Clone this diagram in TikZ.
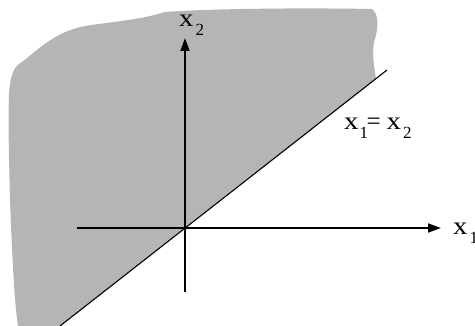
\documentclass[tikz,border=0pt]{standalone}
\usepackage{fontspec}
\setmainfont{Liberation Serif}
\usetikzlibrary{arrows.meta}
\definecolor{regiongray}{RGB}{181,181,181}
\newcommand\subdig[1]{\raisebox{-9pt}{\fontsize{17}{17}\selectfont #1}}
\newcommand\wx{\scalebox{1.15}[1]{x}}
\tikzset{
  axis/.style={line width=1.8pt,-{Triangle[length=13pt,width=9pt]}},
  lbl/.style={inner sep=0pt,anchor=base west,font=\fontsize{25}{25}\selectfont},
}
\begin{document}
\begin{tikzpicture}[x=1pt,y=-1pt]
\useasboundingbox (0,0) rectangle (475,326);
% shaded region
\fill[regiongray] (9,95) .. controls (10,75) and (14,66) .. (22,62)
  .. controls (40,48) and (55,32) .. (85,26)
  .. controls (110,22) and (140,20) .. (165,12)
  .. controls (220,8) and (320,8) .. (372,9)
  .. controls (380,15) and (378,30) .. (374,42)
  .. controls (372,55) and (374,65) .. (376,79)
  -- (60,326) -- (18,326)
  .. controls (14,300) and (12,250) .. (10,200)
  .. controls (9,160) and (8,120) .. (9,95) -- cycle;
\coordinate (O) at (185,228);
\coordinate (xl) at (77,228);
\coordinate (xr) at (441,228);
\coordinate (yb) at (185,292);
\coordinate (yt) at (185,38);
\coordinate (dl) at (60,326);
\coordinate (du) at (387,70);
\draw[line width=1.1pt] (dl) -- (du);
\draw[axis] (xl) -- (xr);
\draw[axis] (yb) -- (yt);
\node[lbl] (lx2) at (179,27) {\wx\kern2pt\subdig{2}};
\node[lbl] (lx1) at (453,235) {\wx\kern2pt\subdig{1}};
\node[lbl] (leq) at (344,130) {\wx\kern1pt\subdig{1}\kern-1.5pt=\kern6pt\wx\kern2pt\subdig{2}};
\end{tikzpicture}
\end{document}
